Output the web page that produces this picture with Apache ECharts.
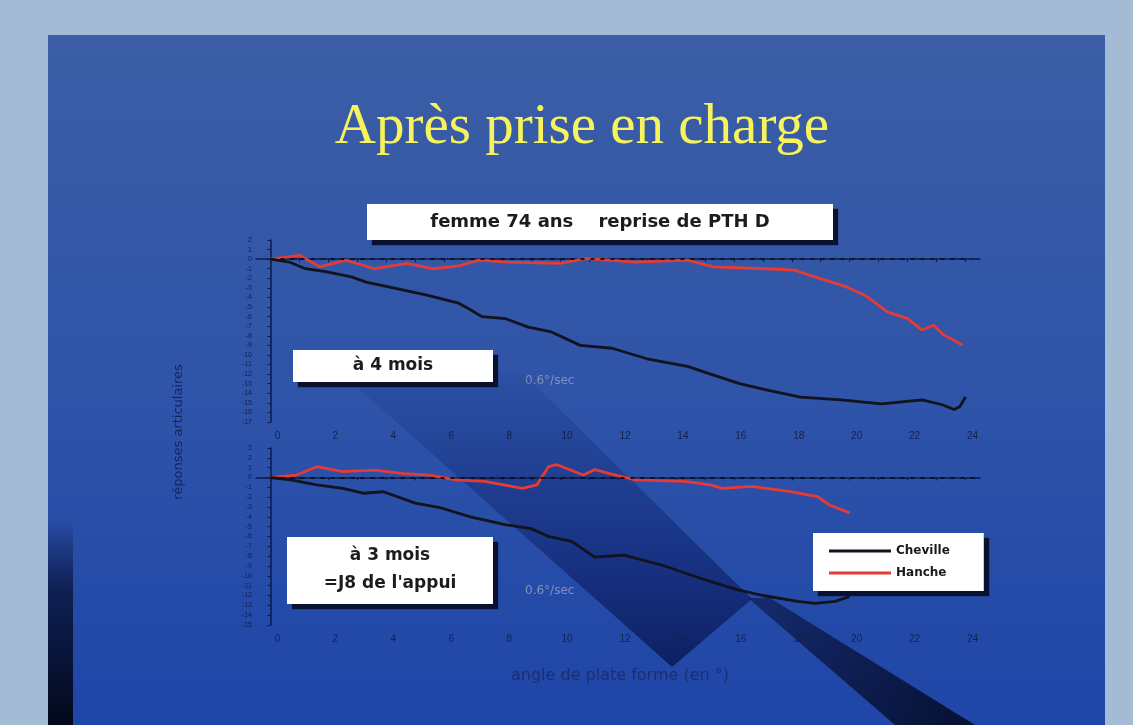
<!DOCTYPE html>
<html>
<head>
<meta charset="utf-8">
<title>Après prise en charge</title>
<script src="https://cdn.jsdelivr.net/npm/echarts@6/dist/echarts.min.js"></script>
<style>
  html, body { margin: 0; padding: 0; background: #a3bbd5; }
  #chart { width: 1133px; height: 725px; }
</style>
</head>
<body>
<div id="chart"></div>
<script>
// graduations de l'axe des x (angle de plate forme, en degres)
var xTickLabels = [0, 2, 4, 6, 8, 10, 12, 14, 16, 18, 20, 22, 24];
var xTicks = [0, 1, 2, 3, 4, 5, 6, 7, 8, 9, 10, 11, 12, 13, 14, 15, 16, 17, 18, 19, 20, 21, 22, 23, 24];

// a 4 mois : [angle, reponse]
var topCheville = [[0, 0], [0.65, -0.3], [1.2, -1.0], [1.9, -1.3], [2.8, -1.85], [3.3, -2.4], [4.4, -3.1],
  [5.4, -3.75], [6.5, -4.6], [6.8, -5.1], [7.3, -6.0], [8.1, -6.2], [8.9, -7.1], [9.7, -7.6], [10.7, -9.0],
  [11.8, -9.3], [13.0, -10.4], [14.4, -11.2], [15.3, -12.1], [16.2, -13.0], [17.2, -13.7], [18.3, -14.4],
  [19.7, -14.7], [21.1, -15.1], [22.5, -14.7], [23.2, -15.2], [23.6, -15.7], [23.8, -15.4], [24.0, -14.4]];
var topHanche = [[0, 0], [1.0, 0.4], [1.7, -0.8], [2.6, -0.1], [3.6, -1.0], [4.7, -0.45], [5.6, -1.0],
  [6.5, -0.7], [7.2, -0.1], [8.2, -0.3], [10.0, -0.45], [10.9, 0.07], [12.6, -0.3], [14.4, -0.1],
  [15.3, -0.8], [17.1, -1.0], [18.1, -1.15], [18.8, -1.85], [19.9, -2.9], [20.6, -3.9], [21.3, -5.5],
  [22.0, -6.2], [22.5, -7.4], [22.9, -6.9], [23.2, -7.8], [23.9, -9.0]];

// a 3 mois (=J8 de l'appui)
var botCheville = [[0, 0], [0.7, -0.25], [1.6, -0.75], [2.5, -1.1], [3.2, -1.6], [3.9, -1.45], [5.0, -2.6],
  [5.9, -3.1], [6.9, -4.0], [8.1, -4.8], [9.0, -5.2], [9.6, -6.0], [10.4, -6.5], [11.2, -8.1], [12.2, -7.9],
  [13.5, -8.9], [14.9, -10.3], [16.1, -11.4], [17.0, -12.0], [18.2, -12.6], [18.8, -12.8], [19.5, -12.6],
  [20.0, -12.1]];
var botHanche = [[0, 0], [0.9, 0.25], [1.6, 1.1], [2.5, 0.6], [3.6, 0.75], [4.6, 0.4], [5.5, 0.25],
  [6.4, -0.25], [7.4, -0.4], [8.7, -1.1], [9.2, -0.75], [9.6, 1.1], [9.9, 1.3], [10.8, 0.25], [11.2, 0.8],
  [11.7, 0.4], [12.6, -0.25], [14.3, -0.4], [15.2, -0.75], [15.6, -1.1], [16.6, -0.9], [17.9, -1.4],
  [18.9, -1.95], [19.3, -2.8], [20.0, -3.6]];

var NOIR = '#11131d';
var ROUGE = '#e53b36';
var AXE = '#0d1a4c';

var chart = echarts.init(document.getElementById('chart'));

function axeX(idx) {
  return {
    type: 'value', gridIndex: idx, min: -0.5, max: 24.5,
    axisLine: { lineStyle: { color: AXE, width: 1.5 } },
    axisTick: { customValues: xTicks, length: 3, lineStyle: { color: AXE } },
    axisLabel: { customValues: xTickLabels, color: '#15214c', fontSize: 10, margin: 9,
      padding: [0, 0, 0, 14], fontFamily: 'Liberation Sans' },
    splitLine: { show: false }
  };
}
function axeY(idx, mn, mx) {
  return {
    type: 'value', gridIndex: idx, min: mn, max: mx, interval: 1,
    axisLine: { show: true, lineStyle: { color: AXE, width: 1.5 } },
    axisTick: { show: true, length: 3, lineStyle: { color: AXE } },
    axisLabel: { color: '#112055', fontSize: 7, margin: 4 },
    splitLine: { show: false }
  };
}
function ligneZero(xmax) {
  return {
    silent: true, symbol: ['none', 'none'], label: { show: false },
    lineStyle: { color: '#0b0d18', type: [4, 6], width: 2, opacity: 0.9 },
    data: [[{ coord: [0, 0] }, { coord: [xmax, 0] }]]
  };
}
function courbe(nom, data, couleur, idx, zero) {
  var s = {
    name: nom, type: 'line', xAxisIndex: idx, yAxisIndex: idx, data: data,
    showSymbol: false, color: couleur, lineStyle: { color: couleur, width: 2.8 }
  };
  if (zero) s.markLine = ligneZero(zero);
  return s;
}

var option = {
  animation: false,
  backgroundColor: '#a3bbd5',
  grid: [
    { left: 256, right: 153, top: 240, height: 182 },
    { left: 256, right: 153, top: 448, height: 177 }
  ],
  xAxis: [axeX(0), axeX(1)],
  yAxis: [axeY(0, -17, 2), axeY(1, -15, 3)],
  legend: {
    data: ['Cheville', 'Hanche'],
    orient: 'vertical', left: 813, top: 533,
    backgroundColor: '#ffffff', padding: [12, 34, 12, 16], itemGap: 10,
    itemWidth: 62, itemHeight: 3, icon: 'rect',
    shadowColor: '#0a1030', shadowOffsetX: 5, shadowOffsetY: 5, shadowBlur: 1,
    textStyle: { color: '#1a1a1a', fontWeight: 'bold', fontSize: 12, fontFamily: 'DejaVu Sans' }
  },
  series: [
    courbe('Hanche', topHanche, ROUGE, 0, 24.2),
    courbe('Cheville', topCheville, NOIR, 0),
    courbe('Hanche', botHanche, ROUGE, 1, 24.5),
    courbe('Cheville', botCheville, NOIR, 1)
  ],
  graphic: { elements: [
    // fond de la diapositive
    { type: 'rect', z: -10, shape: { x: 48, y: 35, width: 1057, height: 700 },
      style: { fill: new echarts.graphic.LinearGradient(0, 0, 0, 1, [
        { offset: 0, color: '#3c5ea6' }, { offset: 0.5, color: '#2f54a8' }, { offset: 1, color: '#1e45a8' }]) } },
    { type: 'rect', z: -9, shape: { x: 48, y: 520, width: 25, height: 205 },
      style: { fill: new echarts.graphic.LinearGradient(0, 0, 0, 1, [
        { offset: 0, color: 'rgba(5,12,40,0)' }, { offset: 0.35, color: 'rgba(8,20,60,0.8)' }, { offset: 1, color: '#03081a' }]) } },
    // textes 0.6°/sec
    { type: 'text', z: -7, x: 525, y: 381,
      style: { text: '0.6°/sec', fill: '#8290bd', fontSize: 12, fontFamily: 'DejaVu Sans', verticalAlign: 'middle' } },
    { type: 'text', z: -7, x: 525, y: 591,
      style: { text: '0.6°/sec', fill: '#8290bd', fontSize: 12, fontFamily: 'DejaVu Sans', verticalAlign: 'middle' } },
    // bande sombre diagonale
    { type: 'polygon', z: -6, shape: { points: [[340, 372], [522, 372], [752, 599], [672, 667]] },
      style: { fill: new echarts.graphic.LinearGradient(0, 0, 0, 1, [
        { offset: 0, color: 'rgba(8,22,90,0.06)' }, { offset: 0.25, color: 'rgba(8,22,90,0.22)' },
        { offset: 0.6, color: 'rgba(8,22,90,0.45)' }, { offset: 1, color: 'rgba(6,16,70,0.72)' }]) } },
    { type: 'polygon', z: -6, shape: { points: [[748, 598], [770, 598], [975, 725], [895, 725]] },
      style: { fill: new echarts.graphic.LinearGradient(0, 0, 1, 1, [
        { offset: 0, color: 'rgba(10,22,70,0.6)' }, { offset: 1, color: '#071030' }]) } },
    // titre
    { type: 'text', z: 20, x: 582, y: 128,
      style: { text: 'Après prise en charge', fill: '#f7f35c', fontSize: 57, fontFamily: 'Liberation Serif',
        align: 'center', verticalAlign: 'middle', shadowColor: 'rgba(10,20,60,0.7)', shadowOffsetX: 2, shadowOffsetY: 2, shadowBlur: 2 } },
    // encadres
    { type: 'rect', z: 20, shape: { x: 367, y: 204, width: 466, height: 36 },
      style: { fill: '#ffffff', shadowColor: '#0a1030', shadowOffsetX: 5, shadowOffsetY: 5, shadowBlur: 1 } },
    { type: 'text', z: 21, x: 600, y: 222,
      style: { text: 'femme 74 ans    reprise de PTH D', fill: '#1c1c1c', fontSize: 18, fontWeight: 'bold',
        fontFamily: 'DejaVu Sans', align: 'center', verticalAlign: 'middle' } },
    { type: 'rect', z: 20, shape: { x: 293, y: 350, width: 200, height: 32 },
      style: { fill: '#ffffff', shadowColor: '#0a1030', shadowOffsetX: 5, shadowOffsetY: 5, shadowBlur: 1 } },
    { type: 'text', z: 21, x: 393, y: 366,
      style: { text: 'à 4 mois', fill: '#1c1c1c', fontSize: 17, fontWeight: 'bold',
        fontFamily: 'DejaVu Sans', align: 'center', verticalAlign: 'middle' } },
    { type: 'rect', z: 20, shape: { x: 287, y: 537, width: 206, height: 67 },
      style: { fill: '#ffffff', shadowColor: '#0a1030', shadowOffsetX: 5, shadowOffsetY: 5, shadowBlur: 1 } },
    { type: 'text', z: 21, x: 390, y: 556,
      style: { text: 'à 3 mois', fill: '#1c1c1c', fontSize: 17, fontWeight: 'bold',
        fontFamily: 'DejaVu Sans', align: 'center', verticalAlign: 'middle' } },
    { type: 'text', z: 21, x: 390, y: 584,
      style: { text: "=J8 de l'appui", fill: '#1c1c1c', fontSize: 17, fontWeight: 'bold',
        fontFamily: 'DejaVu Sans', align: 'center', verticalAlign: 'middle' } },
    // titres des axes
    { type: 'text', z: 5, x: 179, y: 432, rotation: Math.PI / 2,
      style: { text: 'réponses articulaires', fill: '#13235e', fontSize: 13, fontFamily: 'DejaVu Sans',
        align: 'center', verticalAlign: 'middle' } },
    { type: 'text', z: 5, x: 620, y: 676,
      style: { text: 'angle de plate forme (en °)', fill: '#1b2f70', fontSize: 16, fontFamily: 'DejaVu Sans',
        align: 'center', verticalAlign: 'middle' } }
  ] }
};

chart.setOption(option);
</script>
</body>
</html>
